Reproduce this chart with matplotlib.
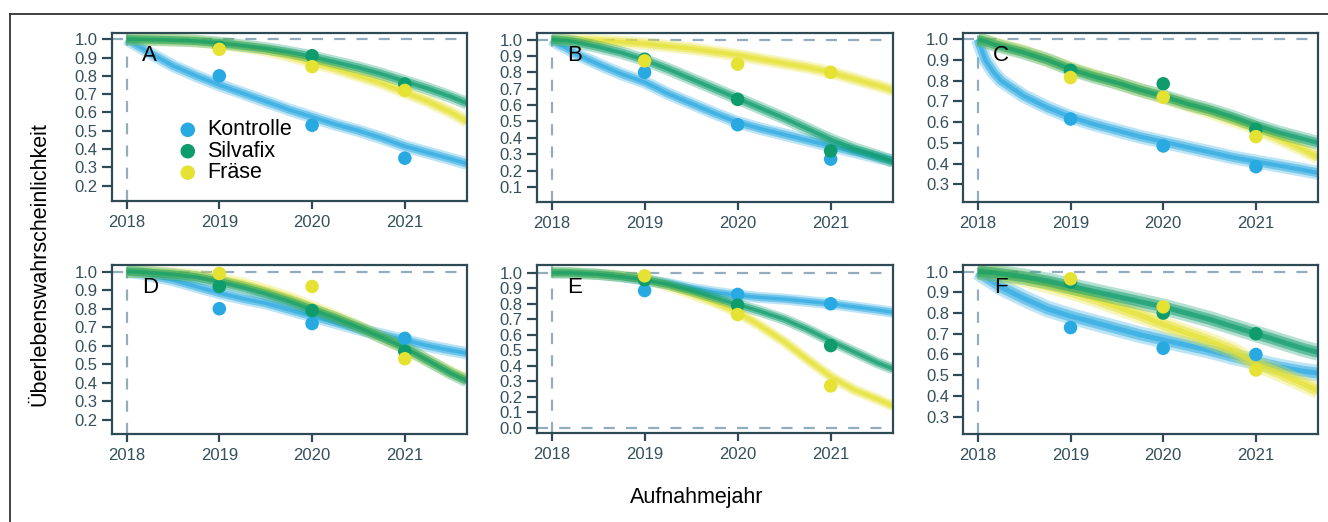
import matplotlib.pyplot as plt
import matplotlib.lines as mlines

years = [2018, 2018.08, 2018.17, 2018.25, 2018.5, 2018.75, 2019, 2019.25, 2019.5,
         2019.75, 2020, 2020.25, 2020.5, 2020.75, 2021, 2021.25, 2021.5, 2021.67]
obs_years = [2019, 2020, 2021]

groups = ["Kontrolle", "Silvafix", "Fräse"]
colors = {"Kontrolle": "#29A9E1", "Silvafix": "#0E9C6C", "Fräse": "#E6E233"}

## curves: Kontrolle / Silvafix / Fräse per panel ##
A_k = [1.0, 0.975, 0.95, 0.925, 0.855, 0.8, 0.75, 0.705, 0.66, 0.615, 0.575, 0.535, 0.5, 0.46, 0.415, 0.38, 0.345, 0.32]
A_s = [1.0, 1.0, 0.999, 0.998, 0.995, 0.99, 0.98, 0.965, 0.95, 0.93, 0.905, 0.875, 0.845, 0.81, 0.77, 0.73, 0.685, 0.65]
A_f = [1.0, 1.0, 0.999, 0.998, 0.995, 0.99, 0.975, 0.96, 0.94, 0.91, 0.875, 0.84, 0.8, 0.76, 0.71, 0.66, 0.6, 0.55]

B_k = [1.0, 0.97, 0.945, 0.915, 0.85, 0.79, 0.74, 0.67, 0.61, 0.55, 0.495, 0.455, 0.42, 0.385, 0.35, 0.315, 0.28, 0.26]
B_s = [1.0, 0.998, 0.993, 0.985, 0.955, 0.92, 0.875, 0.82, 0.76, 0.7, 0.64, 0.58, 0.52, 0.455, 0.39, 0.335, 0.29, 0.255]
B_f = [1.0, 1.0, 0.999, 0.998, 0.993, 0.985, 0.975, 0.96, 0.945, 0.925, 0.905, 0.88, 0.855, 0.83, 0.8, 0.76, 0.72, 0.69]

C_k = [1.0, 0.9, 0.84, 0.8, 0.725, 0.67, 0.625, 0.59, 0.56, 0.53, 0.505, 0.48, 0.455, 0.43, 0.41, 0.39, 0.37, 0.355]
C_s = [1.0, 0.99, 0.975, 0.965, 0.935, 0.9, 0.855, 0.82, 0.79, 0.755, 0.725, 0.69, 0.66, 0.625, 0.585, 0.55, 0.52, 0.5]
C_f = [1.0, 0.99, 0.98, 0.97, 0.94, 0.9, 0.86, 0.825, 0.79, 0.755, 0.72, 0.685, 0.65, 0.61, 0.57, 0.52, 0.47, 0.43]

D_k = [1.0, 0.995, 0.99, 0.98, 0.955, 0.92, 0.885, 0.855, 0.83, 0.795, 0.76, 0.725, 0.69, 0.66, 0.63, 0.6, 0.575, 0.56]
D_s = [1.0, 1.0, 0.998, 0.995, 0.985, 0.97, 0.945, 0.915, 0.88, 0.84, 0.795, 0.75, 0.7, 0.645, 0.59, 0.52, 0.45, 0.41]
D_f = [1.0, 1.0, 0.999, 0.997, 0.99, 0.98, 0.96, 0.935, 0.9, 0.86, 0.81, 0.76, 0.705, 0.645, 0.585, 0.52, 0.455, 0.42]

E_k = [1.0, 1.0, 0.998, 0.995, 0.99, 0.975, 0.955, 0.93, 0.9, 0.875, 0.855, 0.84, 0.83, 0.815, 0.8, 0.78, 0.76, 0.745]
E_s = [1.0, 1.0, 1.0, 0.998, 0.99, 0.975, 0.955, 0.925, 0.885, 0.84, 0.795, 0.75, 0.7, 0.635, 0.56, 0.49, 0.42, 0.38]
E_f = [1.0, 1.0, 1.0, 0.998, 0.99, 0.98, 0.96, 0.915, 0.865, 0.81, 0.745, 0.655, 0.555, 0.44, 0.33, 0.245, 0.185, 0.14]

F_k = [1.0, 0.975, 0.95, 0.925, 0.87, 0.82, 0.785, 0.755, 0.725, 0.695, 0.67, 0.645, 0.62, 0.59, 0.565, 0.54, 0.52, 0.51]
F_s = [1.0, 0.998, 0.995, 0.99, 0.975, 0.955, 0.93, 0.905, 0.88, 0.855, 0.83, 0.8, 0.77, 0.735, 0.7, 0.665, 0.63, 0.61]
F_f = [1.0, 0.997, 0.993, 0.985, 0.965, 0.935, 0.905, 0.87, 0.83, 0.79, 0.745, 0.705, 0.665, 0.62, 0.555, 0.51, 0.46, 0.425]

## observed proportions 2019-2021 ##
A_pk, A_ps, A_pf = [0.80, 0.53, 0.35], [0.955, 0.91, 0.755], [0.945, 0.85, 0.72]
B_pk, B_ps, B_pf = [0.80, 0.48, 0.27], [0.88, 0.635, 0.32], [0.87, 0.85, 0.80]
C_pk, C_ps, C_pf = [0.615, 0.485, 0.385], [0.85, 0.785, 0.565], [0.815, 0.72, 0.53]
D_pk, D_ps, D_pf = [0.80, 0.72, 0.64], [0.92, 0.79, 0.57], [0.99, 0.92, 0.53]
E_pk, E_ps, E_pf = [0.885, 0.86, 0.80], [0.955, 0.79, 0.53], [0.98, 0.73, 0.27]
F_pk, F_ps, F_pf = [0.73, 0.63, 0.60], [0.95, 0.80, 0.70], [0.965, 0.83, 0.525]

panels = ["A", "B", "C", "D", "E", "F"]
curves = {"A": (A_k, A_s, A_f), "B": (B_k, B_s, B_f), "C": (C_k, C_s, C_f),
          "D": (D_k, D_s, D_f), "E": (E_k, E_s, E_f), "F": (F_k, F_s, F_f)}
points = {"A": (A_pk, A_ps, A_pf), "B": (B_pk, B_ps, B_pf), "C": (C_pk, C_ps, C_pf),
          "D": (D_pk, D_ps, D_pf), "E": (E_pk, E_ps, E_pf), "F": (F_pk, F_ps, F_pf)}
yticks = {"A": 0.2, "B": 0.1, "C": 0.3, "D": 0.2, "E": 0.0, "F": 0.3}
ylims = {"A": (0.116, 1.034), "B": (0.01, 1.04), "C": (0.216, 1.03),
         "D": (0.124, 1.036), "E": (-0.034, 1.05), "F": (0.216, 1.032)}
bandw = {"A": 9, "B": 9, "C": 10, "D": 9, "E": 8, "F": 12}

W, H = 1328, 522
boxes = {"A": (111.7, 33, 467, 201), "B": (536.7, 33, 893, 201.7), "C": (963, 33, 1318, 201.7),
         "D": (111.7, 265, 467, 434), "E": (536.7, 265, 893, 433), "F": (963, 265, 1318, 434)}

plt.rcParams['font.family'] = ['Liberation Sans', 'DejaVu Sans']
spine_c = "#2E4A55"
tick_c = "#34505C"
dash_c = "#93ADBE"

fig = plt.figure(figsize=(W / 100, H / 100), dpi=100)

# outer frame (cut off at right / bottom like the source)
fig.add_artist(mlines.Line2D([10 / W, 1.0], [1 - 14 / H, 1 - 14 / H], color="#333333", lw=1.3))
fig.add_artist(mlines.Line2D([10 / W, 10 / W], [0, 1 - 14 / H], color="#333333", lw=1.3))

for p in panels:
    x0, y0, x1, y1 = boxes[p]
    ax = fig.add_axes([x0 / W, 1 - y1 / H, (x1 - x0) / W, (y1 - y0) / H])
    ax.set_xlim(2017.84, 2021.67)
    ax.set_ylim(*ylims[p])

    ax.axhline(1.0, color=dash_c, lw=1.6, ls=(0, (5, 5)), zorder=1)
    if p == "E":
        ax.axhline(0.0, color=dash_c, lw=1.6, ls=(0, (5, 5)), zorder=1)
    ax.axvline(2018, color=dash_c, lw=1.6, ls=(0, (5, 5)), zorder=1)

    k, s, f = curves[p]
    for g, c in zip(["Kontrolle", "Fräse", "Silvafix"], [k, f, s]):
        ax.plot(years, c, color=colors[g], lw=bandw[p], alpha=0.3,
                solid_capstyle="butt", zorder=2)
        ax.plot(years, c, color=colors[g], lw=bandw[p] * 0.65, alpha=0.5,
                solid_capstyle="butt", zorder=2)
        ax.plot(years, c, color=colors[g], lw=bandw[p] * 0.3, alpha=0.65,
                solid_capstyle="butt", zorder=2)

    pk, ps, pf = points[p]
    for g, v in zip(["Kontrolle", "Silvafix", "Fräse"], [pk, ps, pf]):
        ax.scatter(obs_years, v, s=95, color=colors[g], edgecolors="none", zorder=3)

    start = yticks[p]
    ticks = [round(start + 0.1 * i, 1) for i in range(int(round((1.0 - start) / 0.1)) + 1)]
    ax.set_yticks(ticks)
    ax.set_yticklabels(["%.1f" % t for t in ticks])
    ax.set_xticks([2018, 2019, 2020, 2021])
    ax.tick_params(axis="both", colors=spine_c, labelcolor=tick_c, labelsize=12,
                   width=1.6)
    ax.tick_params(axis="y", length=7, pad=3)
    ax.tick_params(axis="x", length=6, pad=4)
    for sp in ax.spines.values():
        sp.set_color(spine_c)
        sp.set_linewidth(1.6)

    ax.text(0.107, 0.93, p, transform=ax.transAxes, fontsize=16, va="top", ha="center", color="black")

    if p == "A":
        lx = 2018.66
        for i, g in enumerate(groups):
            yy = 0.505 - 0.117 * i
            ax.scatter([lx], [yy], s=110, color=colors[g], edgecolors="none", zorder=4)
            ax.text(lx + 0.21, yy, g, fontsize=15.5, va="center", ha="left", color="black")

fig.text(697 / W, 1 - 497 / H, "Aufnahmejahr", fontsize=15.5, ha="center", va="center")
fig.text(40 / W, 1 - 264 / H, "Überlebenswahrscheinlichkeit", fontsize=15.5,
         rotation=90, ha="center", va="center")

fig.savefig("out.png", dpi=100)
